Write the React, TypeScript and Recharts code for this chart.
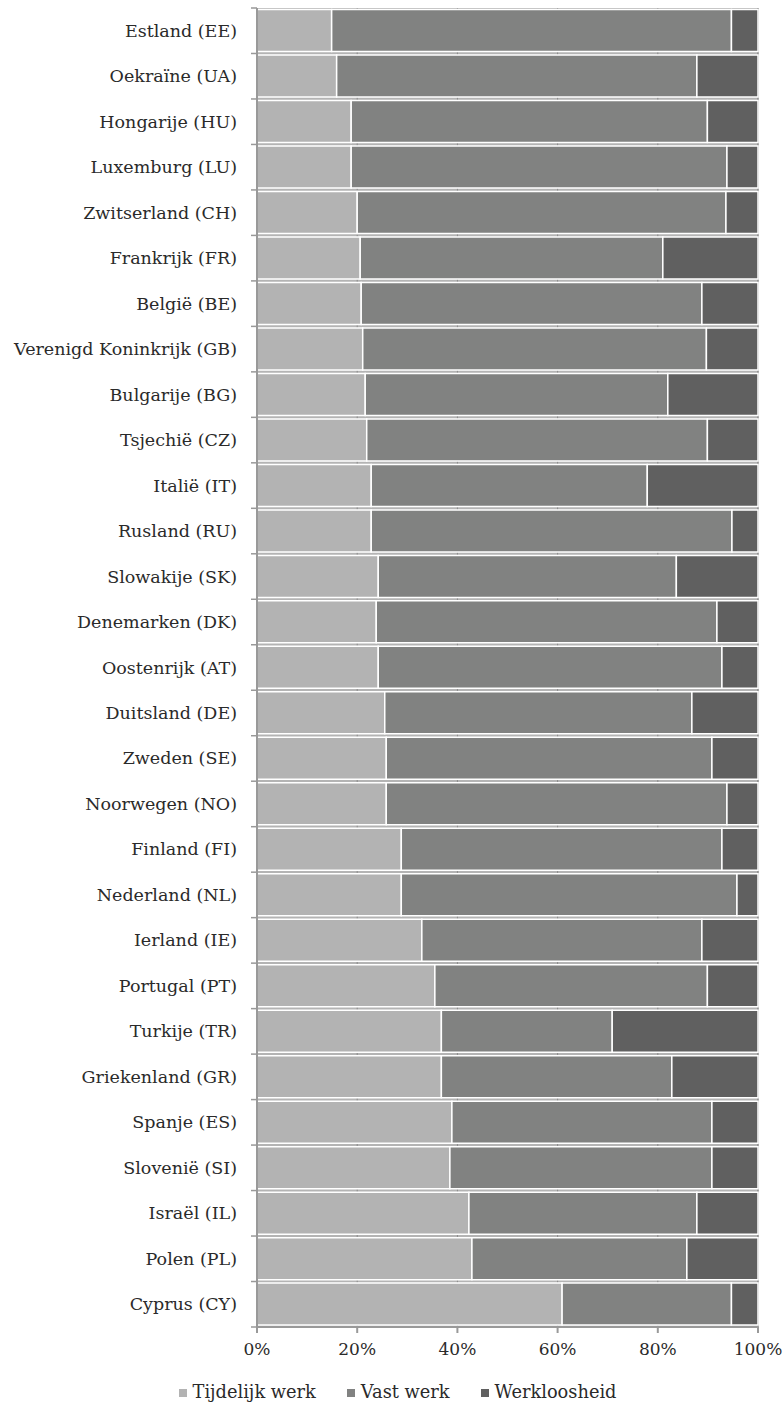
import React from 'react';
import { BarChart, Bar, XAxis, YAxis, CartesianGrid, Legend } from 'recharts';

// Landen, van boven naar beneden
const COUNTRIES = [
  'Estland (EE)', 'Oekraïne (UA)', 'Hongarije (HU)', 'Luxemburg (LU)', 'Zwitserland (CH)',
  'Frankrijk (FR)', 'België (BE)', 'Verenigd Koninkrijk (GB)', 'Bulgarije (BG)', 'Tsjechië (CZ)',
  'Italië (IT)', 'Rusland (RU)', 'Slowakije (SK)', 'Denemarken (DK)', 'Oostenrijk (AT)',
  'Duitsland (DE)', 'Zweden (SE)', 'Noorwegen (NO)', 'Finland (FI)', 'Nederland (NL)',
  'Ierland (IE)', 'Portugal (PT)', 'Turkije (TR)', 'Griekenland (GR)', 'Spanje (ES)',
  'Slovenië (SI)', 'Israël (IL)', 'Polen (PL)', 'Cyprus (CY)',
];

const TIJDELIJK = [
  14.9, 15.9, 18.8, 18.8, 20.0, 20.6, 20.8, 21.1, 21.6, 21.9,
  22.8, 22.8, 24.2, 23.8, 24.2, 25.5, 25.8, 25.8, 28.8, 28.8,
  32.9, 35.5, 36.8, 36.8, 38.9, 38.5, 42.3, 42.9, 60.9,
];

const VAST = [
  79.8, 71.9, 71.1, 75.0, 73.6, 60.4, 68.0, 68.6, 60.4, 68.0,
  55.1, 72.0, 59.5, 68.0, 68.6, 61.3, 65.0, 68.0, 64.0, 67.0,
  55.9, 54.4, 34.1, 46.0, 51.9, 52.3, 45.5, 42.9, 33.8,
];

const WERKLOOS = [
  5.3, 12.2, 10.1, 6.2, 6.4, 19.0, 11.2, 10.3, 18.0, 10.1,
  22.1, 5.2, 16.3, 8.2, 7.2, 13.2, 9.2, 6.2, 7.2, 4.2,
  11.2, 10.1, 29.1, 17.2, 9.2, 9.2, 12.2, 14.2, 5.3,
];

const X_TICKS = [0, 20, 40, 60, 80, 100];

const data = COUNTRIES.map((name, i) => ({
  name,
  tijdelijk: TIJDELIJK[i],
  vast: VAST[i],
  werkloos: WERKLOOS[i],
}));

const FONT = '"DejaVu Serif", serif';
const TEXT_COLOR = '#2a2a2a';
const AXIS_COLOR = '#999999';

// y-as label met streepje op de grens tussen twee categorieën (zoals in Excel)
function CountryTick(props: any) {
  const { x, y, payload, index, visibleTicksCount } = props;
  const half = payload?.offset ?? 22.6;
  const axisX = x + 20;
  return (
    <g>
      <text
        x={x}
        y={y}
        textAnchor="end"
        dominantBaseline="central"
        fontFamily={FONT}
        fontSize={17.5}
        fill={TEXT_COLOR}
      >
        {payload.value}
      </text>
      <line x1={axisX - 6} x2={axisX} y1={y - half} y2={y - half} stroke={AXIS_COLOR} strokeWidth={1.5} />
      {index === visibleTicksCount - 1 && (
        <line x1={axisX - 6} x2={axisX} y1={y + half} y2={y + half} stroke={AXIS_COLOR} strokeWidth={1.5} />
      )}
    </g>
  );
}

export default function App() {
  return (
    <div style={{ position: 'absolute', left: 0, top: 0, background: '#fff', fontFamily: FONT }}>
      <BarChart
        width={784}
        height={1406}
        data={data}
        layout="vertical"
        barCategoryGap="3.5%"
        margin={{ top: 8, right: 26, left: 0, bottom: 4 }}
      >
        {/* grijze achtergrond, alleen zichtbaar in de smalle spleten tussen de balken */}
        <CartesianGrid horizontal={false} stroke="#8a8a8a" fill="#b4b4b4" />
        <XAxis
          type="number"
          domain={[0, 100]}
          ticks={X_TICKS}
          tickFormatter={(v) => `${v}%`}
          stroke={AXIS_COLOR}
          strokeWidth={2}
          tickSize={6}
          tickMargin={10}
          height={50}
          tick={{ fontFamily: FONT, fontSize: 17, fill: TEXT_COLOR }}
        />
        <YAxis
          type="category"
          dataKey="name"
          width={257}
          stroke={AXIS_COLOR}
          strokeWidth={2}
          tickLine={false}
          tickSize={0}
          tickMargin={20}
          interval={0}
          tick={<CountryTick />}
        />
        <Legend
          verticalAlign="bottom"
          iconType="square"
          iconSize={8}
          wrapperStyle={{ fontFamily: FONT, fontSize: 17.8, color: TEXT_COLOR, paddingTop: 4, left: 34 }}
          formatter={(value) => (
            <span style={{ color: TEXT_COLOR, marginLeft: 2, marginRight: 21 }}>{value}</span>
          )}
        />
        <Bar dataKey="tijdelijk" name="Tijdelijk werk" stackId="a" fill="#b3b3b3" stroke="#ffffff" strokeWidth={1.5} isAnimationActive={false} />
        <Bar dataKey="vast" name="Vast werk" stackId="a" fill="#818281" stroke="#ffffff" strokeWidth={1.5} isAnimationActive={false} />
        <Bar dataKey="werkloos" name="Werkloosheid" stackId="a" fill="#606060" stroke="#ffffff" strokeWidth={1.5} isAnimationActive={false} />
      </BarChart>
    </div>
  );
}
